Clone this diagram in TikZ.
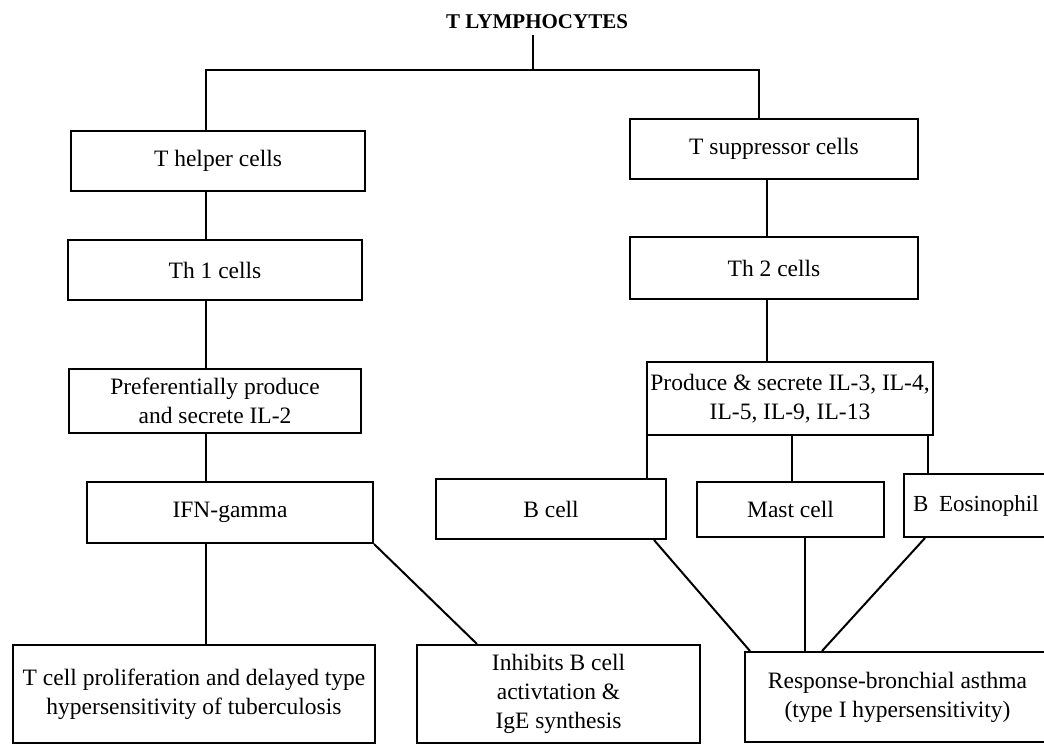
\documentclass[tikz,border=0pt]{standalone}
\usepackage{fontspec}
\setmainfont{Liberation Serif}
\begin{document}
\begin{tikzpicture}[x=1pt,y=-1pt,
  box/.style={draw, line width=2pt, align=center, inner sep=0pt,
    font=\fontsize{23.5}{29}\selectfont},
  link/.style={line width=2pt}]
\useasboundingbox (0,0) rectangle (1044,744);

% title and the fork below it
\node[font=\bfseries\fontsize{21}{25}\selectfont] (title) at (537,22) {T LYMPHOCYTES};
\coordinate (stem) at (533,35);
\coordinate (fork) at (533,70);
\coordinate (lx) at (206,0);
\coordinate (rx) at (759,0);
\coordinate (rx2) at (767,0);

% left branch
\node[box, minimum width=294pt, minimum height=60pt] (th) at (218,161) {T helper cells};
\node[box, minimum width=294pt, minimum height=60pt] (th1) at (215,270) {Th 1 cells};
\node[box, minimum width=292pt, minimum height=64pt] (il2) at (215,401) {Preferentially produce\\and secrete IL-2};
\node[box, minimum width=286pt, minimum height=61pt] (ifn) at (230,512.5) {IFN-gamma};
\node[box, minimum width=362pt, minimum height=98pt] (tcell) at (194,694)
  {T cell proliferation and delayed type\\hypersensitivity of tuberculosis};
\node[box, minimum width=283pt, minimum height=98pt] (inh) at (558.5,694)
  {Inhibits B cell\\activtation \&\\IgE synthesis};

% right branch
\node[box, minimum width=288pt, minimum height=60pt] (ts) at (774,149) {T suppressor cells};
\node[box, minimum width=288pt, minimum height=62pt] (th2) at (774,268) {Th 2 cells};
\node[box, minimum width=286pt, minimum height=73pt] (il) at (790,398.5)
  {Produce \& secrete IL-3, IL-4,\\IL-5, IL-9, IL-13};
\node[box, minimum width=230pt, minimum height=60pt] (bc) at (551,509) {B cell};
\node[box, minimum width=187pt, minimum height=55pt] (mc) at (790.5,509.5) {Mast cell};
\node[box, anchor=west, text width=140pt, inner xsep=9pt, align=left,
  font=\fontsize{23}{28}\selectfont,
  minimum height=63pt] (eo) at (903,505.5) {B\hspace{3pt} Eosinophil};
\node[box, minimum width=305pt, minimum height=90pt] (resp) at (897.5,697)
  {Response-bronchial asthma\\(type I hypersensitivity)};

% trunk and fork
\draw[link] (stem) -- (fork);
\draw[link] (th.north -| lx) |- (fork) -| (ts.north -| rx);

% left chain
\draw[link] (th.south -| lx) -- (th1.north -| lx);
\draw[link] (th1.south -| lx) -- (il2.north -| lx);
\draw[link] (il2.south -| lx) -- (ifn.north -| lx);
\draw[link] (ifn.south -| lx) -- (tcell.north -| lx);
\draw[link] (ifn.south east) -- ([xshift=61pt]inh.north west);

% right chain
\draw[link] (ts.south -| rx2) -- (th2.north -| rx2);
\draw[link] (th2.south -| rx2) -- (il.north -| rx2);
\draw[link] ([xshift=1pt]il.south west) -- ([xshift=1pt]il.south west |- bc.north);
\draw[link] ([xshift=1.5pt]mc.north) -- ([xshift=1.5pt]mc.north |- il.south);
\draw[link] ([xshift=-6pt]il.south east) -- ([xshift=-6pt]il.south east |- eo.north);
\draw[link] ([xshift=-13pt]bc.south east) -- ([xshift=6pt]resp.north west);
\draw[link] ([xshift=14.5pt]mc.south) -- ([xshift=14.5pt]mc.south |- resp.north);
\draw[link] ([xshift=22pt]eo.south west) -- ([xshift=78pt]resp.north west);
\end{tikzpicture}
\end{document}
